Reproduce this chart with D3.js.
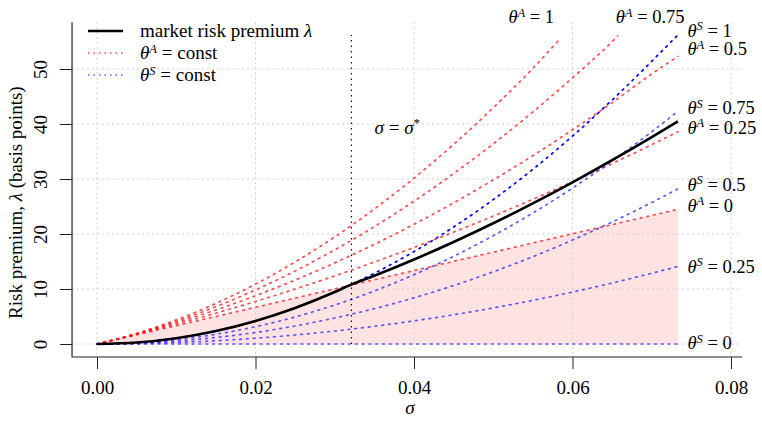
<!DOCTYPE html>
<html><head><meta charset="utf-8">
<script src="https://cdn.jsdelivr.net/npm/d3@7/dist/d3.min.js"></script>
<style>
body{margin:0;background:#fff;}
svg text{font-family:"Liberation Serif","Times New Roman",serif;fill:#000;}
</style></head>
<body><svg id="c" width="762" height="421"></svg>
<script>
// ---- data ----
const sigma = [0,0.005,0.01,0.015,0.02,0.025,0.03,0.032,0.035,0.04,0.045,0.05,0.055,0.06,0.065,0.07,0.0733];
const marketPremium = [0,0.26,1.05,2.36,4.2,6.56,9.45,10.75,12.41,15.36,18.55,21.95,25.57,29.39,33.41,37.61,40.49];
// theta^A = const (red)
const sigmaA1 = [0,0.005,0.01,0.015,0.02,0.025,0.03,0.032,0.035,0.04,0.045,0.05,0.055,0.0585];
const thetaA1 = [0,1.93,4.39,7.37,10.88,14.91,19.47,21.44,24.55,30.16,36.29,42.95,50.13,55.6];
const sigmaA075 = [0,0.005,0.01,0.015,0.02,0.025,0.03,0.032,0.035,0.04,0.045,0.05,0.055,0.06,0.065,0.0657];
const thetaA075 = [0,1.87,4.13,6.78,9.83,13.27,17.11,18.75,21.34,25.96,30.98,36.39,42.19,48.39,54.98,56.0];
const thetaA05 = [0,1.80,3.87,6.19,8.78,11.63,14.75,16.07,18.12,21.76,25.66,29.83,34.25,38.94,43.89,49.11,52.3];
const thetaA025 = [0,1.74,3.60,5.60,7.73,9.99,12.38,13.38,14.91,17.56,20.35,23.26,26.31,29.49,32.8,36.24,38.58];
const thetaA0 = [0,1.67,3.34,5.01,6.68,8.35,10.02,10.69,11.69,13.36,15.03,16.7,18.37,20.04,21.71,23.38,24.48];
// theta^S = const (blue)
const thetaS1 = [0,0.26,1.05,2.36,4.2,6.56,9.45,10.75,12.86,16.8,21.26,26.25,31.76,37.8,44.36,51.4,56.2];
const thetaS075 = [0,0.2,0.79,1.77,3.15,4.92,7.09,8.06,9.65,12.6,15.95,19.69,23.82,28.35,33.27,38.59,42.31];
const thetaS05 = [0,0.13,0.53,1.18,2.1,3.28,4.73,5.38,6.43,8.4,10.63,13.13,15.88,18.9,22.18,25.73,28.21];
const thetaS025 = [0,0.07,0.26,0.59,1.05,1.64,2.36,2.69,3.22,4.2,5.32,6.56,7.94,9.45,11.09,12.86,14.1];
const thetaS0 = [0,0,0,0,0,0,0,0,0,0,0,0,0,0,0,0,0];
const sigmaStar = 0.0321;
const sigmaStarTop = 56.2;
const xTicks = [0,0.02,0.04,0.06,0.08];
const yTicks = [0,10,20,30,40,50];
const xLim = [-0.00315, 0.0814];
const yLim = [-2.36, 58.5];
// line-end labels: [sup, rhs, lambda position]
const rightLabels = [["S","1",56.9],["A","0.5",53.5],["S","0.75",42.8],["A","0.25",39.2],["S","0.5",28.9],["A","0",25.1],["S","0.25",14.0],["S","0",0.1]];
const topLabels = [["A","1",0.0548],["A","0.75",0.0698]];

// ---- scales ----
const svg = d3.select("#c");
const x = d3.scaleLinear().domain([0,0.08]).range([97,731]);
const y = d3.scaleLinear().domain([0,50]).range([344,69]);
const L = x(xLim[0]), R = x(xLim[1]), T = y(yLim[1]), B = y(yLim[0]);

// pink region
const area = d3.area().x((d,i)=>x(sigma[i])).y0(y(0)).y1(d=>y(d));
svg.append("path").attr("d", area(thetaA0)).attr("fill","rgba(255,0,0,0.11)");

// grid
const grid = svg.append("g").attr("stroke","#cfcfcf").attr("stroke-width",1).attr("stroke-dasharray","2,3");
xTicks.forEach(t=>grid.append("line").attr("x1",x(t)).attr("x2",x(t)).attr("y1",T).attr("y2",B));
yTicks.forEach(t=>grid.append("line").attr("x1",L).attr("x2",R).attr("y1",y(t)).attr("y2",y(t)));

// axes
const xa = svg.append("g").attr("transform",`translate(0,${B})`)
  .call(d3.axisBottom(x).tickValues(xTicks).tickFormat(d3.format(".2f")).tickSize(12).tickPadding(12));
xa.select(".domain").remove();
xa.selectAll("text").style("font-size","19px").style("font-family","Liberation Serif");
const ya = svg.append("g").attr("transform",`translate(${L},0)`)
  .call(d3.axisLeft(y).tickValues(yTicks).tickSize(12));
ya.select(".domain").remove();
ya.selectAll("text").attr("x",0).attr("dy","0.33em").attr("text-anchor","middle")
  .attr("transform","translate(-31,0) rotate(-90)").style("font-size","19px").style("font-family","Liberation Serif");
svg.selectAll(".tick line").attr("stroke","#222");
svg.append("path").attr("d",`M${L},${T}V${B}H${R}`).attr("fill","none").attr("stroke","#222").attr("stroke-width",1.2);

// lines
const line = (xs)=>d3.line().x((d,i)=>x(xs[i])).y(d=>y(d)).curve(d3.curveMonotoneX);
const dotted = (vals, xs, color, w)=>svg.append("path").attr("d", line(xs)(vals))
  .attr("fill","none").attr("stroke",color).attr("stroke-width",w||1.7)
  .attr("stroke-dasharray","1.8,5").attr("stroke-linecap","round");
const red = "rgba(255,20,20,0.75)", blue = "rgba(40,40,255,0.75)";
dotted(thetaA1, sigmaA1, red);
dotted(thetaA075, sigmaA075, red);
dotted(thetaA05, sigma, red);
dotted(thetaA025, sigma, red);
dotted(thetaA0, sigma, red);
dotted(thetaS0, sigma, blue);
dotted(thetaS025, sigma, blue);
dotted(thetaS05, sigma, blue);
dotted(thetaS075, sigma, blue);
dotted(thetaS1, sigma, "#0000ff");
svg.append("path").attr("d", line(sigma)(marketPremium)).attr("fill","none").attr("stroke","#000").attr("stroke-width",2.6);

// sigma* line
svg.append("line").attr("x1",x(sigmaStar)).attr("x2",x(sigmaStar)).attr("y1",y(0)).attr("y2",y(sigmaStarTop))
  .attr("stroke","#000").attr("stroke-width",1.1).attr("stroke-dasharray","1.5,4");

// math label helper
function theta(g, sup, rhs){
  g.append("tspan").attr("font-style","italic").text("θ");
  g.append("tspan").attr("font-style","italic").attr("font-size","12.5px").attr("dy",-6.5).text(sup);
  g.append("tspan").attr("dy",6.5).text(" = " + rhs);
}
rightLabels.forEach(([s,r,v])=>{
  const t = svg.append("text").attr("x",x(0.0745)).attr("y",y(v)).attr("dy","0.3em").style("font-size","18.5px");
  theta(t,s,r);
});
topLabels.forEach(([s,r,sx])=>{
  const t = svg.append("text").attr("x",x(sx)).attr("y",y(59.3)).attr("dy","0.3em").attr("text-anchor","middle").style("font-size","18.5px");
  theta(t,s,r);
});
// sigma = sigma*
const st = svg.append("text").attr("x",x(0.0379)).attr("y",y(39.3)).attr("dy","0.3em").attr("text-anchor","middle").style("font-size","19px");
st.append("tspan").attr("font-style","italic").text("σ");
st.append("tspan").text(" = ");
st.append("tspan").attr("font-style","italic").text("σ");
st.append("tspan").attr("font-size","13px").attr("dy",-7).text("*");

// axis titles
svg.append("text").attr("x",410).attr("y",B+57).attr("text-anchor","middle").attr("font-style","italic").style("font-size","19px").text("σ");
const yl = svg.append("text").attr("transform",`translate(22,${(T+B)/2+13}) rotate(-90)`).attr("text-anchor","middle").style("font-size","19px");
yl.append("tspan").text("Risk premium, ");
yl.append("tspan").attr("font-style","italic").text("λ");
yl.append("tspan").text(" (basis points)");

// legend
const lg = svg.append("g");
const rows = [31,53,75];
lg.append("line").attr("x1",88).attr("x2",123).attr("y1",rows[0]).attr("y2",rows[0]).attr("stroke","#000").attr("stroke-width",2.6);
lg.append("line").attr("x1",88).attr("x2",123).attr("y1",rows[1]).attr("y2",rows[1]).attr("stroke",red).attr("stroke-width",1.5).attr("stroke-dasharray","1.5,4");
lg.append("line").attr("x1",88).attr("x2",123).attr("y1",rows[2]).attr("y2",rows[2]).attr("stroke",blue).attr("stroke-width",1.5).attr("stroke-dasharray","1.5,4");
const t0 = lg.append("text").attr("x",140).attr("y",rows[0]).attr("dy","0.32em").style("font-size","19px");
t0.append("tspan").text("market risk premium ");
t0.append("tspan").attr("font-style","italic").text("λ");
theta(lg.append("text").attr("x",140).attr("y",rows[1]).attr("dy","0.32em").style("font-size","19px"),"A","const");
theta(lg.append("text").attr("x",140).attr("y",rows[2]).attr("dy","0.32em").style("font-size","19px"),"S","const");
</script></body></html>
